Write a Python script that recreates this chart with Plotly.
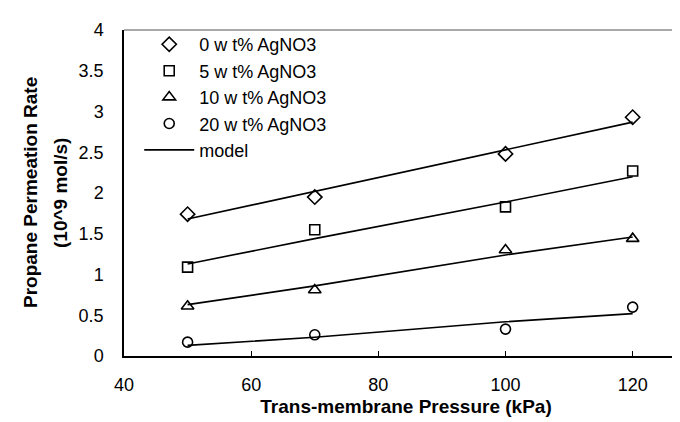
import plotly.graph_objects as go

pressure = [50, 70, 100, 120]
rate_0 = [1.74, 1.95, 2.48, 2.93]
rate_5 = [1.09, 1.55, 1.83, 2.27]
rate_10 = [0.61, 0.81, 1.30, 1.44]
rate_20 = [0.17, 0.26, 0.33, 0.60]
model_0 = [1.68, 2.02, 2.53, 2.87]
model_5 = [1.13, 1.44, 1.89, 2.20]
model_10 = [0.63, 0.86, 1.24, 1.46]
model_20 = [0.13, 0.23, 0.42, 0.52]
series_names = ["0 w t% AgNO3", "5 w t% AgNO3", "10 w t% AgNO3", "20 w t% AgNO3"]
x_ticks = [40, 60, 80, 100, 120]
y_ticks = [0, 0.5, 1, 1.5, 2, 2.5, 3, 3.5, 4]

FONT = "Liberation Sans, Arial, sans-serif"
fig = go.Figure()

symbols = ["diamond-open", "square-open", "triangle-up-open", "circle-open"]
sizes = [11, 10, 11, 10]
for i, (name, ys) in enumerate(zip(series_names, [rate_0, rate_5, rate_10, rate_20])):
    fig.add_trace(go.Scatter(
        x=pressure, y=ys, mode="markers", name=name,
        marker=dict(symbol=symbols[i], size=sizes[i], color="black",
                    line=dict(color="black", width=1.6)),
    ))

mx, my = [], []
for m in [model_0, model_5, model_10, model_20]:
    mx += pressure + [None]
    my += m + [None]
fig.add_trace(go.Scatter(x=mx, y=my, mode="lines", name="model",
                         line=dict(color="black", width=1.6)))

fig.add_shape(type="line", xref="paper", yref="paper", x0=0, x1=1, y0=1, y1=1,
              line=dict(color="#555555", width=1.2))

fig.add_annotation(text="<b>Propane Permeation Rate</b>", xref="paper", yref="paper",
                   x=0, y=0.5, xanchor="center", yanchor="middle", xshift=-94,
                   textangle=-90, showarrow=False, font=dict(family=FONT, size=19, color="black"))
fig.add_annotation(text="<b>(10^9 mol/s)</b>", xref="paper", yref="paper",
                   x=0, y=0.5, xanchor="center", yanchor="middle", xshift=-64,
                   textangle=-90, showarrow=False, font=dict(family=FONT, size=19, color="black"))

fig.update_layout(
    width=680, height=422,
    margin=dict(l=116, r=0, t=22, b=74),
    paper_bgcolor="white", plot_bgcolor="white",
    font=dict(family=FONT, size=18, color="black"),
    showlegend=True,
    legend=dict(x=0.027, y=1.012, xanchor="left", yanchor="top",
                bgcolor="rgba(0,0,0,0)", borderwidth=0, itemwidth=50,
                traceorder="normal",
                font=dict(family=FONT, size=18, color="black")),
    xaxis=dict(range=[40, 128.7], tickvals=x_ticks, showgrid=False, zeroline=False,
               showline=True, linecolor="black", linewidth=1.5,
               ticks="inside", ticklen=5, tickcolor="black", ticklabelstandoff=12,
               title=dict(text="<b>Trans-membrane Pressure (kPa)</b>",
                          font=dict(family=FONT, size=19, color="black"), standoff=5)),
    yaxis=dict(range=[0, 4], tickvals=y_ticks, ticktext=[f"{v:g}" for v in y_ticks],
               showgrid=False, zeroline=False,
               showline=True, linecolor="black", linewidth=1.5,
               ticks="", ticklabelstandoff=15),
)

fig.write_html("out.html")
